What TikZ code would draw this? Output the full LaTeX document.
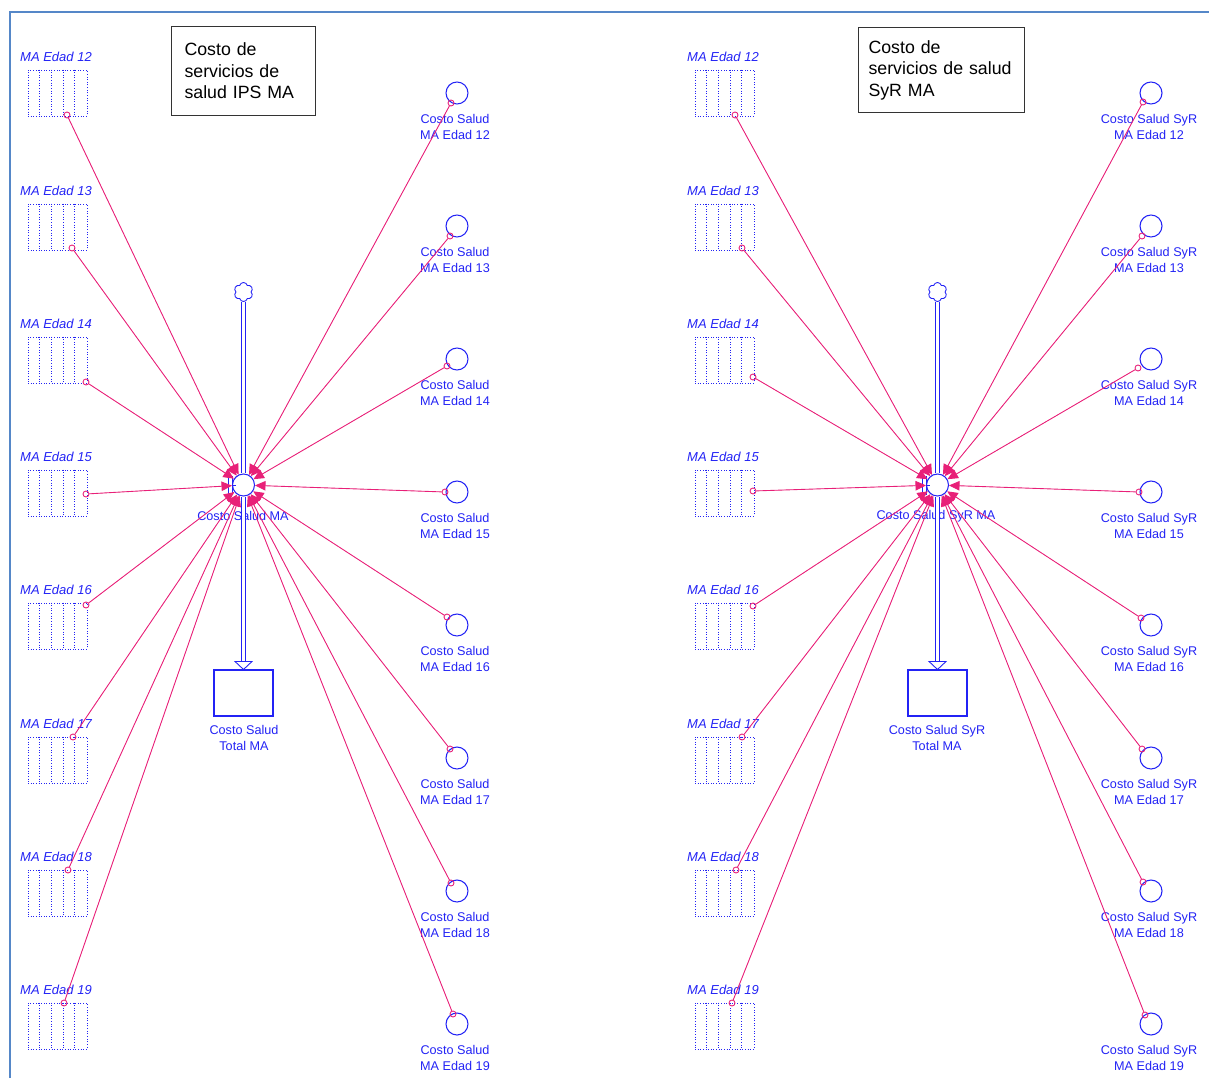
\documentclass[tikz,border=0pt]{standalone}
\usepackage{fontspec}
\setmainfont{Liberation Sans}
\usetikzlibrary{arrows.meta, shapes.symbols}

\definecolor{simblue}{RGB}{35,35,245}
\definecolor{linkpink}{RGB}{232,32,120}
\definecolor{frameblue}{RGB}{85,135,200}

\begin{document}
\begin{tikzpicture}[
    x=0.02cm, y=-0.02cm,
    every node/.style={font=\fontsize{7.2}{9.1}\selectfont},
    >={Triangle[length=2.1mm, width=1.9mm]},
    ghost/.style={draw=simblue, densely dotted, line width=0.5pt, minimum width=1.18cm, minimum height=0.92cm, inner sep=0pt},
    ghostline/.style={draw=simblue, densely dotted, line width=0.5pt},
    ghostlabel/.style={text=simblue, font=\fontsize{7.4}{9}\selectfont\itshape},
    aux/.style={circle, draw=simblue, line width=0.6pt, minimum size=0.44cm, inner sep=0pt},
    valve/.style={circle, draw=simblue, line width=0.6pt, minimum size=0.44cm, inner sep=0pt},
    stock/.style={draw=simblue, line width=0.6pt, minimum width=1.18cm, minimum height=0.92cm, inner sep=0pt},
    lbl/.style={text=simblue, align=center, inner sep=0pt},
    tap/.style={circle, draw=linkpink, line width=0.5pt, minimum size=0.12cm, inner sep=0pt},
    link/.style={->, draw=linkpink, fill=linkpink, line width=0.5pt},
    pipe/.style={draw=simblue, double=white, double distance=0.05cm, line width=0.65pt},
    source/.style={cloud, cloud puffs=6, aspect=1, draw=simblue, line width=0.5pt, minimum size=0.38cm, inner sep=0pt},
    notebox/.style={draw=black!80, line width=0.6pt, align=left, inner ysep=0pt, font=\fontsize{10.1}{12.2}\selectfont},
]
\useasboundingbox (0,0) rectangle (1209,1078);

% --- Frame ---
\draw[frameblue, line width=1.1pt] (10,1078) -- (10,12) -- (1209,12);

% --- Notes ---
\node[notebox, anchor=north west, minimum width=2.88cm, minimum height=1.78cm, inner xsep=0.26cm, text width=2.36cm] (noteL) at (171,26)
    {Costo de\\servicios de\\salud IPS MA};
\node[notebox, anchor=north west, minimum width=3.32cm, minimum height=1.7cm, inner xsep=0.2cm, text width=2.92cm] (noteR) at (858,27)
    {Costo de\\servicios de salud\\SyR MA};

% ===== Left panel: IPS =====
\node[source] (cloudL) at (243.5,292) {};
\node[valve] (valveL) at (243.5,485) {};
\node[stock] (stockL) at (243.5,693) {};
\node[lbl] (valveLtxt) at (243,516) {Costo Salud MA};
\node[lbl] (stockLtxt) at (244,738) {Costo Salud\\Total MA};
\draw[pipe] (cloudL.south) -- (valveL.north);
\draw[pipe] (valveL.south) -- ([yshift=0.16cm]stockL.north);
\draw[simblue, line width=0.5pt, fill=white] ([xshift=-0.17cm, yshift=0.16cm]stockL.north) -- ([xshift=0.17cm, yshift=0.16cm]stockL.north) -- (stockL.north) -- cycle;
\draw[simblue, line width=0.5pt] (valveL.center) ++(-15,-9) -- ++(0,19) ++(4,0) -- ++(0,-19) ++(0,9) -- ++(3,0);

% ghost stocks
\foreach \a/\gy/\ox/\oy in {12/93/67/115, 13/227/72/248, 14/360/86/382, 15/493/86/494,
                            16/626/86/605, 17/760/73/737, 18/893/68/870, 19/1026/64/1003} {
  \node[ghost] (gL\a) at (57.5,\gy) {};
  \foreach \k in {1,...,4}
    \draw[ghostline] ([xshift=\k*0.236cm]gL\a.north west) -- ([xshift=\k*0.236cm]gL\a.south west);
  \node[ghostlabel] (gL\a txt) at (56,\gy-36) {MA Edad \a};
  \node[tap] (tgL\a) at (\ox,\oy) {};
  \draw[link] (tgL\a) -- (valveL);
}

% converters
\foreach \a/\cy/\ox/\oy in {12/93/451/103, 13/226/450/236, 14/359/447/366, 15/492/445/492,
                            16/625/447/617, 17/758/450/749, 18/891/451/883, 19/1024/453/1014} {
  \node[aux] (cL\a) at (457,\cy) {};
  \node[lbl] (cL\a txt) at (455,\cy+34) {Costo Salud\\MA Edad \a};
  \node[tap] (tcL\a) at (\ox,\oy) {};
  \draw[link] (tcL\a) -- (valveL);
}

% ===== Right panel: SyR =====
\node[source] (cloudR) at (937.5,292) {};
\node[valve] (valveR) at (937.5,485) {};
\node[stock] (stockR) at (937.5,693) {};
\node[lbl] (valveRtxt) at (936,516) {Costo Salud SyR MA};
\node[lbl] (stockRtxt) at (937,738) {Costo Salud SyR\\Total MA};
\draw[pipe] (cloudR.south) -- (valveR.north);
\draw[pipe] (valveR.south) -- ([yshift=0.16cm]stockR.north);
\draw[simblue, line width=0.5pt, fill=white] ([xshift=-0.17cm, yshift=0.16cm]stockR.north) -- ([xshift=0.17cm, yshift=0.16cm]stockR.north) -- (stockR.north) -- cycle;
\draw[simblue, line width=0.5pt] (valveR.center) ++(-15,-9) -- ++(0,19) ++(4,0) -- ++(0,-19) ++(0,9) -- ++(3,0);

% ghost stocks
\foreach \a/\gy/\ox/\oy in {12/93/735/115, 13/227/742/248, 14/360/753/377, 15/493/753/491,
                            16/626/753/606, 17/760/742/737, 18/893/736/870, 19/1026/732/1003} {
  \node[ghost] (gR\a) at (724.5,\gy) {};
  \foreach \k in {1,...,4}
    \draw[ghostline] ([xshift=\k*0.236cm]gR\a.north west) -- ([xshift=\k*0.236cm]gR\a.south west);
  \node[ghostlabel] (gR\a txt) at (723,\gy-36) {MA Edad \a};
  \node[tap] (tgR\a) at (\ox,\oy) {};
  \draw[link] (tgR\a) -- (valveR);
}

% converters
\foreach \a/\cy/\ox/\oy in {12/93/1143/102, 13/226/1142/236, 14/359/1138/368, 15/492/1139/492,
                            16/625/1141/618, 17/758/1142/749, 18/891/1143/882, 19/1024/1145/1015} {
  \node[aux] (cR\a) at (1151,\cy) {};
  \node[lbl] (cR\a txt) at (1149,\cy+34) {Costo Salud SyR\\MA Edad \a};
  \node[tap] (tcR\a) at (\ox,\oy) {};
  \draw[link] (tcR\a) -- (valveR);
}

\end{tikzpicture}
\end{document}
